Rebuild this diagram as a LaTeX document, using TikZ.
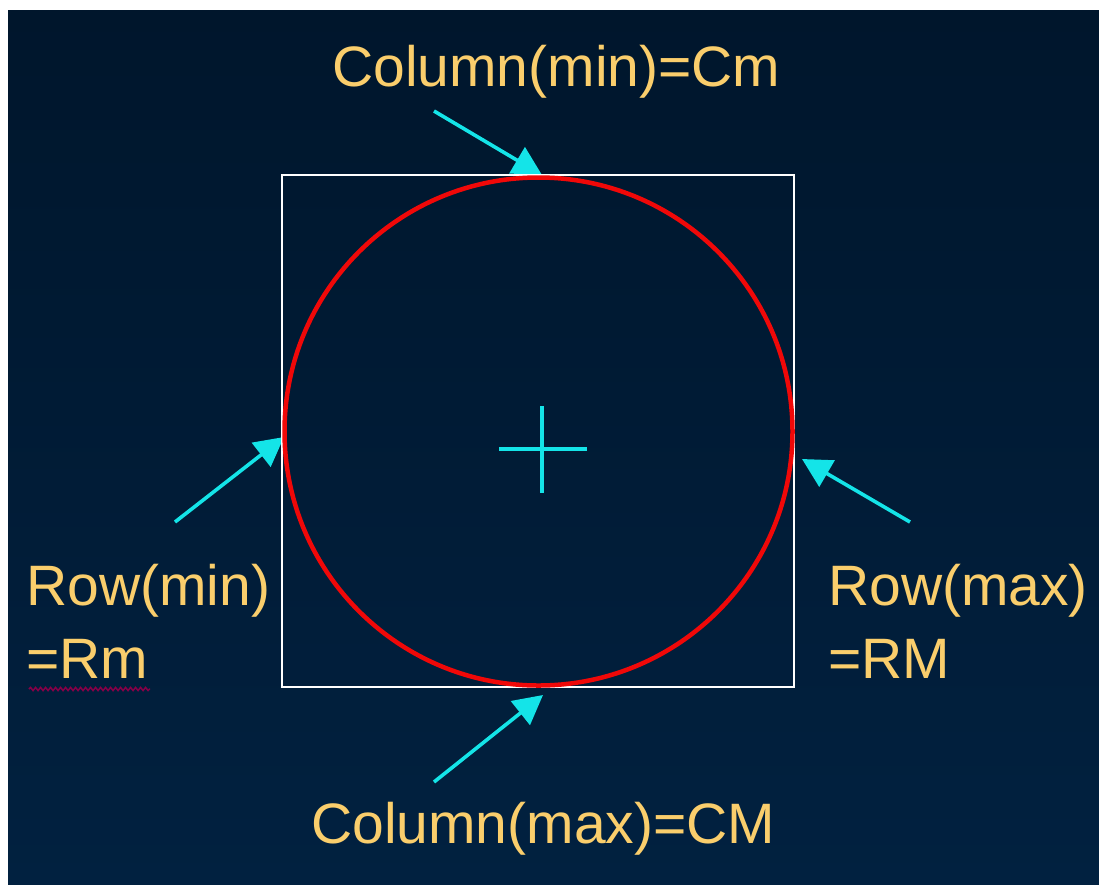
\documentclass[tikz,border=0pt]{standalone}
\usepackage{fontspec}
\setmainfont{Liberation Sans}
\usetikzlibrary{arrows.meta,decorations.pathmorphing}
\definecolor{bgtop}{RGB}{0,22,44}
\definecolor{bgbot}{RGB}{1,33,64}
\definecolor{labelcol}{RGB}{250,206,108}
\definecolor{arrowcol}{RGB}{20,228,232}
\definecolor{circcol}{RGB}{240,8,8}
\tikzset{
  lbl/.style={text=labelcol, inner sep=0pt, anchor=base west, font=\fontsize{57}{62}\selectfont},
  pointer/.style={draw=arrowcol, line width=3.6pt, -{Triangle[length=29pt,width=30pt]}},
  crossline/.style={draw=arrowcol, line width=3.2pt},
}
\begin{document}
\begin{tikzpicture}[x=1pt,y=-1pt]
\useasboundingbox (0,0) rectangle (1099,884);
\fill[white] (0,0) rectangle (1099,884);
\shade[top color=bgtop, bottom color=bgbot] (8,10) rectangle (1099,884);

% labels
\node[lbl] (cmin) at (332,86) {Column(min)=Cm};
\node[lbl] (cmax) at (311,843) {Column(max)=CM};
\node[lbl] (rmin1) at (26,605) {Row(min)};
\node[lbl] (rmin2) at (26,678) {=Rm};
\node[lbl] (rmax1) at (828,605) {Row(max)};
\node[lbl] (rmax2) at (828,678) {=RM};

% squiggle under =Rm
\draw[red!65!blue!80!black, line width=1.5pt, decorate, decoration={snake, amplitude=1.6pt, segment length=5pt}] (29,689) -- (150,689);

% arrow coordinates
\coordinate (ts) at (434,111);
\coordinate (tt) at (542,175);
\coordinate (bs) at (434,782);
\coordinate (bt) at (543,695);
\coordinate (ls) at (175,522);
\coordinate (lt) at (284,437);
\coordinate (rs) at (910,522);
\coordinate (rt) at (802,459);

\draw[pointer] (ts) -- (tt);
\draw[pointer] (bs) -- (bt);
\draw[pointer] (ls) -- (lt);
\draw[pointer] (rs) -- (rt);

% square and circle
\node[draw=white, line width=2pt, minimum width=512pt, minimum height=512pt, inner sep=0pt] (box) at (538,431) {};
\node[draw=circcol, line width=4.5pt, circle, minimum size=508pt, inner sep=0pt] (circ) at (538.5,431.5) {};

% cross
\coordinate (hl) at (499,449);
\coordinate (hr) at (587,449);
\coordinate (vt) at (542,406);
\coordinate (vb) at (542,493);
\draw[crossline] (hl) -- (hr);
\draw[crossline] (vt) -- (vb);
\end{tikzpicture}
\end{document}
